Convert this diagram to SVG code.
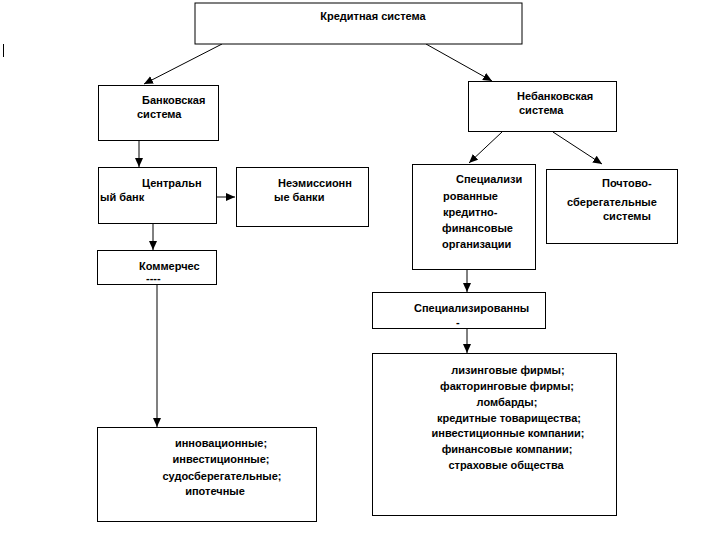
<svg xmlns="http://www.w3.org/2000/svg" width="712" height="535" viewBox="0 0 712 535">
<style>
.box{fill:#fff;stroke:#000;stroke-width:1}
.t{font-family:"Liberation Sans",Arial,sans-serif;font-size:11px;font-weight:bold;fill:#000}
.c{text-anchor:middle}
.ln{stroke:#000;stroke-width:1;fill:none}
.gr{stroke:#808080;stroke-width:2;fill:none}
</style>
<defs>
<marker id="ah" markerUnits="userSpaceOnUse" markerWidth="10" markerHeight="10" refX="9" refY="4" orient="auto">
<path d="M0,0 L9,4 L0,8 z" fill="#000"/>
</marker>
</defs>
<rect width="712" height="535" fill="#fff"/>
<line x1="3.5" y1="44" x2="3.5" y2="57" stroke="#000" stroke-width="1"/>
<g id="connectors">
<line class="ln" x1="222" y1="44" x2="144" y2="84" marker-end="url(#ah)"/>
<line class="ln" x1="426" y1="44" x2="492" y2="81" marker-end="url(#ah)"/>
<line class="ln" x1="139" y1="140" x2="139" y2="167" marker-end="url(#ah)"/>
<line class="gr" x1="213" y1="197" x2="235" y2="197" marker-end="url(#ah)"/>
<line class="ln" x1="153" y1="223" x2="153" y2="250" marker-end="url(#ah)"/>
<line class="gr" x1="157" y1="285" x2="157" y2="427" marker-end="url(#ah)"/>
<line class="ln" x1="502" y1="132" x2="469" y2="163" marker-end="url(#ah)"/>
<line class="ln" x1="553" y1="132" x2="602" y2="164" marker-end="url(#ah)"/>
<line class="ln" x1="467" y1="270" x2="467" y2="292" marker-end="url(#ah)"/>
<line class="ln" x1="467" y1="329" x2="467" y2="353" marker-end="url(#ah)"/>
</g>
<g id="credit-system">
<rect class="box" x="195" y="3" width="327" height="41"/>
<text class="t c" x="373" y="20">Кредитная  система</text>
</g>
<g id="bank-system">
<rect class="box" x="98.5" y="85.5" width="120" height="55"/>
<text class="t" x="142" y="104">Банковская</text>
<text class="t" x="137" y="118">система</text>
</g>
<g id="nonbank-system">
<rect class="box" x="468.5" y="81.5" width="148" height="50"/>
<text class="t" x="517" y="100">Небанковская</text>
<text class="t" x="519" y="114">система</text>
</g>
<g id="central-bank">
<rect class="box" x="98.5" y="167.5" width="118" height="56"/>
<text class="t" x="142" y="187">Центральн</text>
<text class="t" x="100" y="201">ый банк</text>
</g>
<g id="nonemission-banks">
<rect class="box" x="236.5" y="167.5" width="132" height="59"/>
<text class="t" x="278" y="187">Неэмиссионн</text>
<text class="t" x="274" y="201">ые банки</text>
</g>
<g id="commercial">
<rect class="box" x="97.5" y="250.5" width="119" height="34"/>
<text class="t" x="139" y="270">Коммерчес</text>
<text class="t" x="146" y="282">----</text>
</g>
<g id="commercial-list">
<rect class="box" x="97.5" y="427.5" width="219" height="94"/>
<text class="t c" x="221" y="447">инновационные;</text>
<text class="t c" x="221" y="463">инвестиционные;</text>
<text class="t c" x="222" y="480">судосберегательные;</text>
<text class="t c" x="215" y="495">ипотечные</text>
</g>
<g id="specialized-orgs">
<rect class="box" x="412.5" y="164.5" width="123" height="105"/>
<text class="t" x="456" y="183">Специализи</text>
<text class="t" x="443" y="200">рованные</text>
<text class="t" x="443" y="216">кредитно-</text>
<text class="t" x="442" y="232">финансовые</text>
<text class="t" x="442" y="248">организации</text>
</g>
<g id="postal-savings">
<rect class="box" x="546.5" y="169.5" width="131" height="74"/>
<text class="t" x="602" y="187">Почтово-</text>
<text class="t" x="567" y="206">сберегательные</text>
<text class="t" x="603" y="220">системы</text>
</g>
<g id="specialized">
<rect class="box" x="372.5" y="292.5" width="173" height="36"/>
<text class="t" x="414" y="312">Специализированны</text>
<text class="t" x="456" y="326">-</text>
</g>
<g id="specialized-list">
<rect class="box" x="372.5" y="353.5" width="244" height="162"/>
<text class="t c" x="508" y="374">лизинговые фирмы;</text>
<text class="t c" x="507" y="390">факторинговые фирмы;</text>
<text class="t c" x="507" y="406">ломбарды;</text>
<text class="t c" x="509" y="422">кредитные товарищества;</text>
<text class="t c" x="508" y="437">инвестиционные  компании;</text>
<text class="t c" x="507" y="453">финансовые компании;</text>
<text class="t c" x="506" y="469">страховые общества</text>
</g>
</svg>
